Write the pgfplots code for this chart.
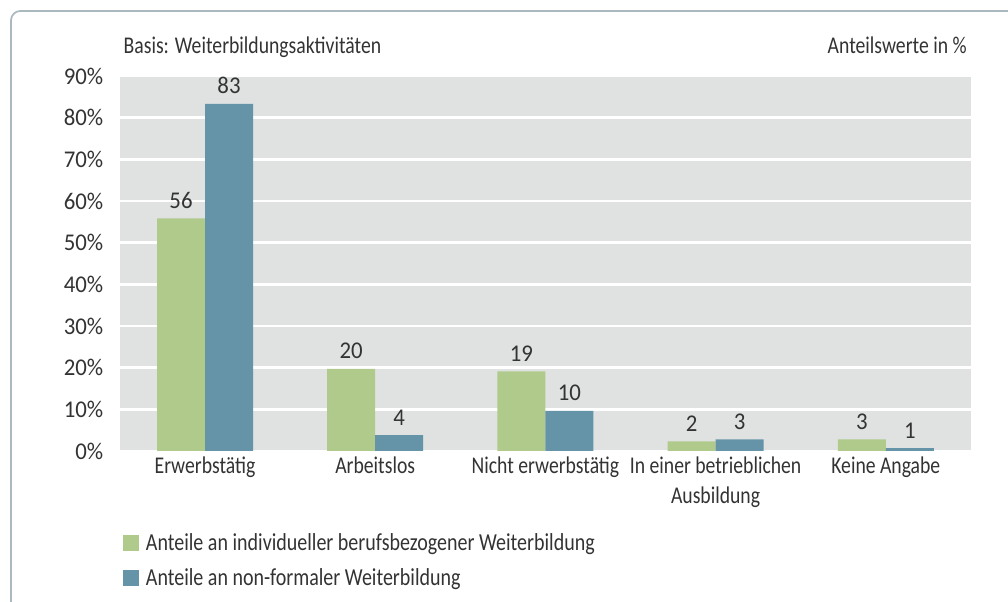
\documentclass[border=0pt]{standalone}
\usepackage{pgfplots}
\pgfplotsset{compat=1.18}
\usepackage{fontspec}
\setmainfont{Carlito}[FakeStretch=0.82]
\newfontfamily\numfont{Carlito}[FakeStretch=0.95]
\definecolor{bggray}{RGB}{223,226,225}
\definecolor{barg}{RGB}{176,202,139}
\definecolor{barb}{RGB}{101,148,168}
\definecolor{txt}{RGB}{51,51,51}
\definecolor{framec}{RGB}{170,185,192}
\begin{document}
\begin{tikzpicture}[font=\fontsize{18}{22}\selectfont,text=txt]
\useasboundingbox (0pt,0pt) rectangle (756pt,451.5pt);
\draw[framec, line width=1.3pt, rounded corners=7pt] (757.5pt,443.25pt) -- (8.25pt,443.25pt) -- (8.25pt,-1.5pt);
\node[anchor=base west] at (89.25pt,411pt) {Basis: Weiterbildungsaktivitäten};
\node[anchor=base east] at (728.5pt,411pt) {Anteilswerte in \%};
\begin{axis}[
  at={(153.75pt,113.25pt)}, anchor=origin,
  scale only axis, width=638.25pt, height=281.25pt,
  ybar, bar width=36pt,
  xmin=-0.5, xmax=4.5, ymin=0, ymax=90,
  xtick=data,
  xticklabels={Erwerbstätig, Arbeitslos, Nicht erwerbstätig, {In einer betrieblichen\\Ausbildung}, Keine Angabe},
  xticklabel style={align=center, text=txt, yshift=-1pt},
  ytick={0,10,...,90},
  yticklabel={\pgfmathprintnumber{\tick}\%},
  yticklabel style={text=txt, xshift=-9pt, font=\fontsize{18}{22}\selectfont\numfont},
  /pgf/number format/assume math mode=true,
  major tick length=0pt,
  axis line style={draw=none},
  axis background/.style={fill=bggray},
  ymajorgrids, grid style={white, line width=2.2pt},
  nodes near coords={\pgfmathprintnumber[fixed,precision=0]{\pgfplotspointmeta}},
  every node near coord/.append style={text=txt, font=\fontsize{18}{22}\selectfont\numfont, /pgf/number format/assume math mode=true, yshift=4pt},
  legend style={at={(-0.001,-0.205)}, anchor=north west, draw=none, fill=none, legend cell align=left, row sep=8pt, text=txt, font=\fontsize{18.3}{22}\selectfont},
  legend image code/.code={\fill[#1] (0pt,-6pt) rectangle (12pt,6pt); \path (15pt,0pt);},
]
\addplot[fill=barg, draw=none, bar shift=-18pt] coordinates {(0,55.8) (1,19.7) (2,19.1) (3,2.3) (4,2.8)};
\addplot[fill=barb, draw=none, bar shift=18pt] coordinates {(0,83.3) (1,3.8) (2,9.6) (3,2.8) (4,0.7)};
\legend{Anteile an individueller berufsbezogener Weiterbildung, Anteile an non-formaler Weiterbildung}
\end{axis}
\end{tikzpicture}
\end{document}
